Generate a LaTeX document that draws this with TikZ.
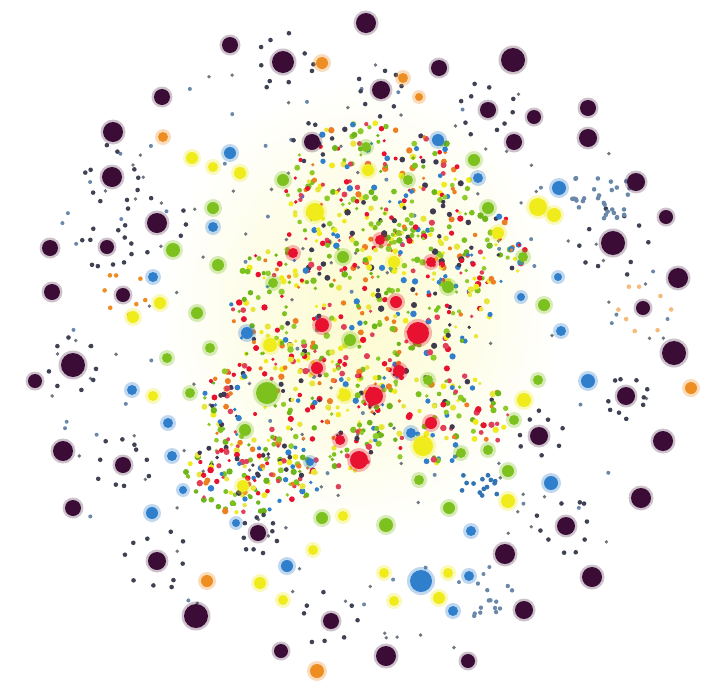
\documentclass[tikz,border=0pt]{standalone}
\definecolor{hubc}{HTML}{3A0C36}
\definecolor{satc}{HTML}{3E4254}
\definecolor{satb}{HTML}{6A88AA}
\definecolor{satg}{HTML}{70767E}
\definecolor{cblue}{HTML}{2F7FCC}
\definecolor{cgreen}{HTML}{7CC11E}
\definecolor{cyellow}{HTML}{F0EC1C}
\definecolor{cred}{HTML}{E81230}
\definecolor{corange}{HTML}{EE8E22}
\definecolor{cc1}{HTML}{E81230}
\definecolor{cc2}{HTML}{E0405A}
\definecolor{cc3}{HTML}{7CC11E}
\definecolor{cc4}{HTML}{8FCB2A}
\definecolor{cc5}{HTML}{6EB51A}
\definecolor{cc6}{HTML}{F0EC1C}
\definecolor{cc7}{HTML}{E8E63A}
\definecolor{cc8}{HTML}{3E3A50}
\definecolor{cc9}{HTML}{2F7FCC}
\definecolor{cc10}{HTML}{EE7E22}
\newcommand\hubdot[6]{%
  \fill[hubc,opacity=0.25] (#1,#2) circle (#3+2.5);
  \fill[hubc] (#1,#2) circle (#3);
  \foreach \s in {1,...,#4}{%
    \pgfmathsetmacro\ang{360*\s/#4+20*rand}%
    \pgfmathsetmacro\rr{#5*(0.8+0.4*rnd)}%
    \fill[#6,shift={(#1,#2)}] (\ang:\rr) circle (2.3);
  }}
\newcommand\coldot[4]{%
  \fill[#4,opacity=0.3] (#1,#2) circle (#3+3);
  \fill[#4] (#1,#2) circle (#3);}
\begin{document}
\begin{tikzpicture}[x=1pt,y=-1pt]
\useasboundingbox (0,0) rectangle (702,686);
\fill[white] (0,0) rectangle (702,686);
\pgfmathsetseed{4217}
% soft haze
\shade[inner color=cyellow!22, outer color=white] (360,310) ellipse (200 and 230);
% background scattered small dots
\foreach \i in {1,...,170}{%
  \pgfmathsetmacro\t{360*rnd}%
  \pgfmathsetmacro\q{320*sqrt(rnd)}%
  \pgfmathsetmacro\px{355+\q*cos(\t)}%
  \pgfmathsetmacro\py{345+\q*sin(\t)}%
  \pgfmathrandominteger{\k}{1}{3}%
  \ifnum\k=1 \fill[satb] (\px,\py) circle (2);\else\fill[satg] (\px,\py) circle (1.9);\fi
}
% central cluster
\foreach \cx/\cy/\rx/\ry/\n in {375/185/95/65/220, 360/300/135/80/350, 290/420/95/80/260, 430/415/80/50/130, 245/475/60/40/100, 470/250/60/40/80}{%
  \foreach \i in {1,...,\n}{%
    \pgfmathsetmacro\t{360*rnd}%
    \pgfmathsetmacro\q{sqrt(rnd)}%
    \pgfmathsetmacro\px{\cx+\rx*\q*cos(\t)}%
    \pgfmathsetmacro\py{\cy+\ry*\q*sin(\t)}%
    \pgfmathrandominteger{\k}{1}{10}%
    \pgfmathsetmacro\sz{1.7+1.6*rnd}%
    \fill[cc\k] (\px,\py) circle (\sz);
  }}
% hubs with satellites
\hubdot{283}{62}{11}{10}{26}{satc}
\hubdot{112}{177}{10}{10}{28}{satc}
\hubdot{157}{223}{10}{8}{28}{satc}
\hubdot{107}{247}{7}{10}{22}{satc}
\hubdot{123}{295}{7}{8}{20}{corange}
\hubdot{73}{365}{12}{8}{26}{satc}
\hubdot{123}{465}{8}{10}{25}{satc}
\hubdot{157}{561}{9}{10}{28}{satc}
\hubdot{258}{533}{8}{10}{18}{satc}
\hubdot{331}{621}{8}{8}{25}{satc}
\hubdot{488}{110}{8}{10}{26}{satc}
\hubdot{381}{90}{9}{8}{22}{satc}
\hubdot{613}{243}{12}{10}{30}{satc}
\hubdot{643}{308}{7}{8}{25}{corange!60}
\hubdot{626}{396}{9}{10}{22}{satc}
\hubdot{566}{526}{9}{10}{26}{satc}
\hubdot{539}{436}{9}{8}{22}{satc}
\hubdot{312}{142}{8}{6}{18}{satc}
% blue satellite clusters
\foreach \i in {1,...,30}{%
  \pgfmathsetmacro\px{600+30*rand}%
  \pgfmathsetmacro\py{200+22*rand}%
  \fill[satb] (\px,\py) circle (2.3);}
\foreach \i in {1,...,14}{%
  \pgfmathsetmacro\px{480+18*rand}%
  \pgfmathsetmacro\py{485+12*rand}%
  \fill[cblue!80!satc] (\px,\py) circle (2.4);}
\foreach \i in {1,...,14}{%
  \pgfmathsetmacro\px{490+24*rand}%
  \pgfmathsetmacro\py{598+18*rand}%
  \fill[satb] (\px,\py) circle (2.2);}
% plain hubs
\foreach \x/\y/\r in {366/23/10, 230/45/8, 513/60/12, 439/68/8, 162/97/8, 113/132/10, 534/117/7, 588/108/8, 514/142/8, 588/138/9, 636/182/9, 666/217/7, 50/248/8, 52/292/8, 678/278/10, 35/381/7, 674/353/12, 663/441/10, 63/451/10, 73/508/8, 641/498/10, 505/554/10, 592/577/10, 196/616/12, 524/610/9, 386/656/10, 468/661/7, 281/651/7}{%
  \fill[hubc,opacity=0.25] (\x,\y) circle (\r+2.5);
  \fill[hubc] (\x,\y) circle (\r);}
% colored medium dots
\foreach \x/\y/\r in {230/153/6, 438/140/6, 559/188/7, 247/333/6, 153/277/5, 213/227/5, 132/390/5, 168/423/5, 172/456/5, 152/513/6, 287/566/6, 183/490/4, 588/381/7, 551/483/7, 421/581/11, 471/531/5, 469/576/5, 453/611/5, 411/433/5, 478/178/5, 558/277/4, 561/331/5, 521/297/4, 310/462/4, 236/523/4}{%
  \coldot{\x}{\y}{\r}{cblue}}
\foreach \x/\y/\r in {283/180/6, 173/250/7, 218/265/6, 213/208/6, 197/313/6, 343/257/6, 273/283/5, 474/160/6, 488/208/6, 448/287/6, 544/305/6, 366/147/5, 408/180/5, 523/257/5, 267/393/11, 167/358/5, 322/518/6, 210/348/5, 190/393/5, 428/380/5, 419/480/5, 449/508/6, 386/525/7, 508/471/6, 538/380/5, 461/453/5, 488/450/5, 514/420/5, 350/340/6, 245/430/6}{%
  \coldot{\x}{\y}{\r}{cgreen}}
\foreach \x/\y/\r in {315/212/9, 192/158/6, 160/303/6, 133/317/6, 240/173/6, 213/167/5, 368/170/6, 394/262/6, 538/207/9, 554/215/7, 498/233/6, 313/550/5, 260/583/6, 283/600/5, 343/516/5, 153/396/5, 243/486/6, 423/446/10, 524/400/7, 508/501/7, 439/598/6, 394/601/5, 448/573/5, 384/573/5, 270/345/7, 345/395/6}{%
  \coldot{\x}{\y}{\r}{cyellow}}
\foreach \x/\y/\r in {418/333/11, 396/302/6, 431/262/5, 374/396/9, 399/371/6, 431/423/6, 359/460/9, 322/325/7, 293/253/5, 317/368/6, 380/240/5, 340/440/5}{%
  \coldot{\x}{\y}{\r}{cred}}
\foreach \x/\y/\r in {322/63/6, 163/137/5, 403/78/5, 419/97/4, 691/388/6, 207/581/6, 317/671/7}{%
  \coldot{\x}{\y}{\r}{corange}}
\end{tikzpicture}
\end{document}
